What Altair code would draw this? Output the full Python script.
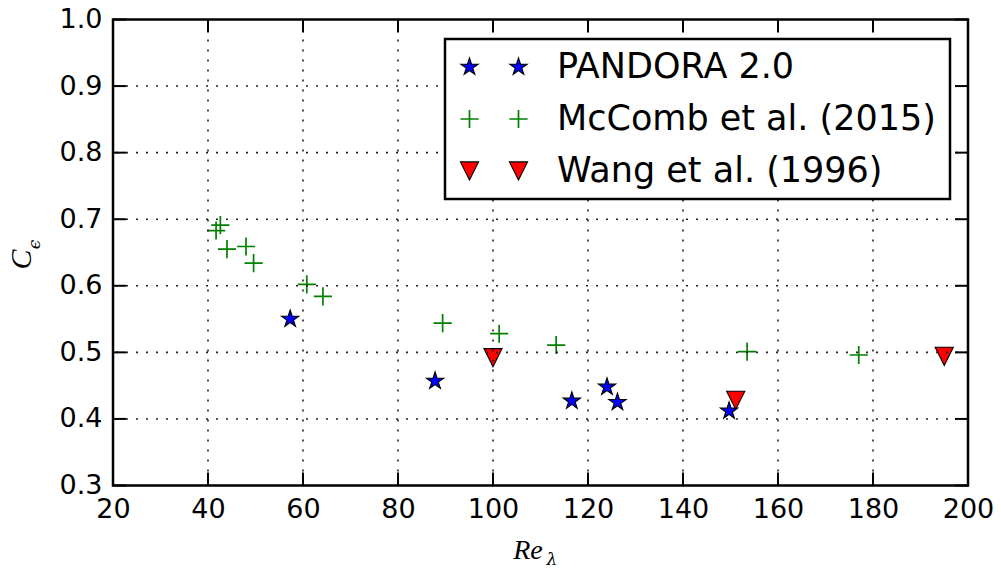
import altair as alt
import pandas as pd

# ---- data ----
pandora_re = [57.3, 87.8, 116.6, 124.0, 126.2, 149.7]
pandora_c = [0.550, 0.457, 0.427, 0.448, 0.425, 0.412]
mccomb_re = [42.6, 41.7, 44.0, 48.0, 49.6, 60.8, 64.2, 89.4, 101.3, 113.3, 153.5, 177.0]
mccomb_c = [0.691, 0.683, 0.655, 0.659, 0.634, 0.602, 0.584, 0.544, 0.528, 0.511, 0.501, 0.496]
wang_re = [100.0, 151.1, 195.0]
wang_c = [0.492, 0.428, 0.494]
series_names = ["PANDORA 2.0", "McComb et al. (2015)", "Wang et al. (1996)"]
x_ticks = [20, 40, 60, 80, 100, 120, 140, 160, 180, 200]
y_ticks = [0.3, 0.4, 0.5, 0.6, 0.7, 0.8, 0.9, 1.0]
x_title = ["Re", "λ"]
y_title = ["C", "ϵ"]

# ---- styling ----
W, H = 855, 466
TICK = 13
STAR = ("M0,-1L-0.2245,-0.309L-0.951,-0.309L-0.363,0.118L-0.588,0.809L0,0.382"
        "L0.588,0.809L0.363,0.118L0.951,-0.309L0.2245,-0.309Z")
PLUS = "M-1,0L1,0M0,-1L0,1"
TRI = "M-1,-1L1,-1L0,1Z"

df_p = pd.DataFrame({"Re": pandora_re, "C": pandora_c})
df_m = pd.DataFrame({"Re": mccomb_re, "C": mccomb_c})
df_w = pd.DataFrame({"Re": wang_re, "C": wang_c})
xt = pd.DataFrame({"Re": x_ticks})
yt = pd.DataFrame({"C": y_ticks})

xs = alt.Scale(domain=[20, 200], nice=False, zero=False)
ys = alt.Scale(domain=[0.3, 1.0], nice=False, zero=False)
xax = alt.Axis(values=x_ticks, title=None, grid=False, ticks=False, tickSize=0,
               domain=False, labelFontSize=27, labelPadding=11, labelFlush=False,
               labelOverlap=False, format="d", labelColor="black")
yax = alt.Axis(values=y_ticks, title=None, grid=False, ticks=False, tickSize=0,
               domain=False, labelFontSize=27, labelPadding=11,
               labelOverlap=False, format=".1f", labelColor="black")
X = alt.X("Re:Q", scale=xs, axis=xax)
Y = alt.Y("C:Q", scale=ys, axis=yax)

wang = alt.Chart(df_w).mark_point(shape=TRI, size=330, filled=True, fill="#ff0000",
                                  stroke="black", strokeWidth=1.1, opacity=1).encode(x=X, y=Y)
mccomb = alt.Chart(df_m).mark_point(shape=PLUS, size=330, filled=False, stroke="#008000",
                                    strokeWidth=1.7, opacity=1).encode(x=X, y=Y)
pandora = alt.Chart(df_p).mark_point(shape=STAR, size=330, filled=True, fill="#0000ff",
                                     stroke="black", strokeWidth=1.1, opacity=1).encode(x=X, y=Y)

grid_style = dict(color="#222222", strokeWidth=1.6, strokeDash=[2, 8])
vgrid = alt.Chart(xt.iloc[1:-1]).mark_rule(**grid_style).encode(x=X)
hgrid = alt.Chart(yt.iloc[1:-1]).mark_rule(**grid_style).encode(y=Y)

tick_style = dict(color="black", strokeWidth=2)
t_bottom = alt.Chart(xt).mark_rule(**tick_style).encode(x=X, y=alt.value(H), y2=alt.value(H - TICK))
t_top = alt.Chart(xt).mark_rule(**tick_style).encode(x=X, y=alt.value(0), y2=alt.value(TICK))
t_left = alt.Chart(yt).mark_rule(**tick_style).encode(y=Y, x=alt.value(0), x2=alt.value(TICK))
t_right = alt.Chart(yt).mark_rule(**tick_style).encode(y=Y, x=alt.value(W), x2=alt.value(W - TICK))

# ---- legend (matplotlib style, two symbols per entry) ----
dummy = pd.DataFrame({"a": [0]})
leg_box = alt.Chart(dummy).mark_rect(fill="white", stroke="black", strokeWidth=2.5).encode(
    x=alt.value(332), x2=alt.value(837), y=alt.value(19.5), y2=alt.value(179.5))
row_y = [47.5, 99.5, 151.5]
sym_x = [356.5, 405.5]
sym_marks = [
    dict(shape=STAR, size=330, filled=True, fill="#0000ff", stroke="black", strokeWidth=1.1),
    dict(shape=PLUS, size=330, filled=False, stroke="#008000", strokeWidth=1.7),
    dict(shape=TRI, size=330, filled=True, fill="#ff0000", stroke="black", strokeWidth=1.1),
]
leg_layers = [leg_box]
for i, name in enumerate(series_names):
    for sx in sym_x:
        leg_layers.append(alt.Chart(dummy).mark_point(opacity=1, **sym_marks[i]).encode(
            x=alt.value(sx), y=alt.value(row_y[i])))
    leg_layers.append(alt.Chart(pd.DataFrame({"t": [name]})).mark_text(
        align="left", baseline="middle", fontSize=35, font="DejaVu Sans", color="black").encode(
        x=alt.value(444), y=alt.value(row_y[i]), text="t:N"))

# ---- axis titles with subscripts ----
serif = "Liberation Serif, DejaVu Serif"
xt1 = alt.Chart(pd.DataFrame({"t": [x_title[0]]})).mark_text(
    font=serif, fontStyle="italic", fontSize=28, align="center", baseline="middle", color="black"
).encode(x=alt.value(415), y=alt.value(531), text="t:N")
xt2 = alt.Chart(pd.DataFrame({"t": [x_title[1]]})).mark_text(
    font="DejaVu Serif", fontStyle="italic", fontSize=17, align="center", baseline="middle", color="black"
).encode(x=alt.value(439), y=alt.value(540), text="t:N")
yt1 = alt.Chart(pd.DataFrame({"t": [y_title[0]]})).mark_text(
    font=serif, fontStyle="italic", fontSize=30, align="center", baseline="middle", angle=270, color="black"
).encode(x=alt.value(-91), y=alt.value(240), text="t:N")
yt2 = alt.Chart(pd.DataFrame({"t": [y_title[1]]})).mark_text(
    font="DejaVu Serif", fontStyle="italic", fontSize=17, align="center", baseline="middle", angle=270, color="black"
).encode(x=alt.value(-78), y=alt.value(225), text="t:N")

chart = alt.layer(
    wang, mccomb, pandora, vgrid, hgrid, t_bottom, t_top, t_left, t_right,
    *leg_layers, xt1, xt2, yt1, yt2
).properties(
    width=W, height=H,
    autosize=alt.AutoSizeParams(type="none"),
    padding={"left": 113, "top": 19.5, "right": 33, "bottom": 85.5},
).configure(font="DejaVu Sans").configure_view(
    stroke="black", strokeWidth=2.5
).configure_axis(labelFont="DejaVu Sans")

chart.save("out.html", embed_options={"renderer": "svg", "actions": False})
